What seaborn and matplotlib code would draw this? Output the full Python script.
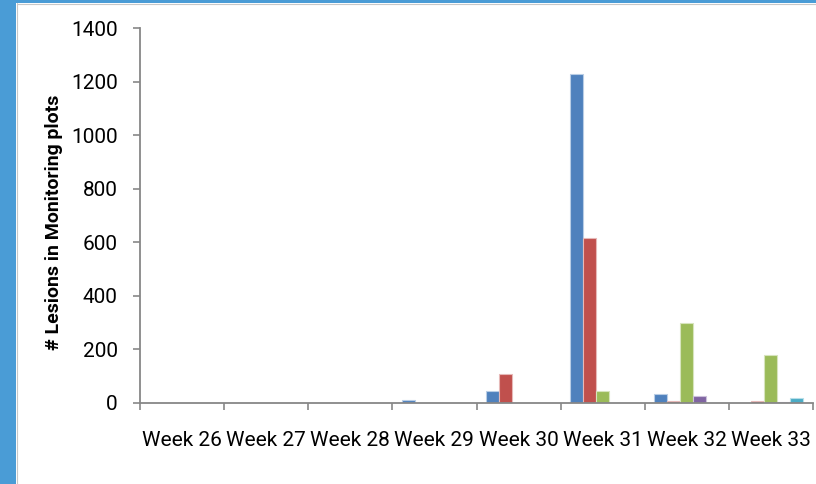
import matplotlib
matplotlib.use("Agg")
import matplotlib.pyplot as plt
from matplotlib.patches import Rectangle
from matplotlib.ticker import FixedLocator, NullFormatter, FixedFormatter
import seaborn as sns
import pandas as pd
import numpy as np

# Weekly lesion counts per monitoring series
weeks = ["Week 26", "Week 27", "Week 28", "Week 29", "Week 30", "Week 31", "Week 32", "Week 33"]
series_names = ["Series 1", "Series 2", "Series 3", "Series 4", "Series 5"]
series_1 = [0, 0, 0, 12, 45, 1230, 33, 0]
series_2 = [0, 0, 0, 0, 110, 615, 7, 9]
series_3 = [0, 0, 0, 0, 0, 45, 300, 180]
series_4 = [0, 0, 0, 0, 0, 0, 25, 5]
series_5 = [0, 0, 0, 0, 0, 0, 0, 17]
y_ticks = [0, 200, 400, 600, 800, 1000, 1200, 1400]

colors = ["#4F81BD", "#C0504D", "#9BBB59", "#8064A2", "#4BACC6"]
edge_colors = ["#b9cde5", "#e6b9b8", "#d7e4bd", "#ccc1da", "#b7dee8"]

rows = []
for name, vals in zip(series_names, [series_1, series_2, series_3, series_4, series_5]):
    for w, v in zip(weeks, vals):
        rows.append({"week": w, "series": name, "lesions": v})
df = pd.DataFrame(rows)

sns.set_theme(style="white")
plt.rcParams["font.family"] = ["Roboto", "DejaVu Sans"]

fig = plt.figure(figsize=(8.16, 4.84), dpi=100)
fig.patch.set_facecolor("white")

# Blue frame strips on the left and top edges
fig.patches.append(Rectangle((0, 0), 16 / 816, 1, transform=fig.transFigure,
                             facecolor="#4a9cd6", edgecolor="none", zorder=0))
fig.patches.append(Rectangle((0, 1 - 3 / 484), 1, 3 / 484, transform=fig.transFigure,
                             facecolor="#4a9cd6", edgecolor="none", zorder=0))
fig.add_artist(plt.Line2D([16.5 / 816, 16.5 / 816], [0, 1 - 3 / 484], transform=fig.transFigure,
                          color="#c8c8c8", lw=0.8))
fig.add_artist(plt.Line2D([16.5 / 816, 1], [1 - 3.5 / 484, 1 - 3.5 / 484], transform=fig.transFigure,
                          color="#c8c8c8", lw=0.8))

ax = fig.add_axes([140 / 816, (484 - 403) / 484, 673 / 816, 375 / 484])
ax.set_facecolor("white")

sns.barplot(data=df, x="week", y="lesions", hue="series", hue_order=series_names,
            order=weeks, palette=colors, width=65 / 84, ax=ax, legend=False,
            saturation=1, errorbar=None)

# lighter outline on each bar
n_weeks = len(weeks)
for i, patch in enumerate(ax.patches):
    patch.set_edgecolor(edge_colors[i // n_weeks])
    patch.set_linewidth(0.8)

ax.set_xlim(-0.5, len(weeks) - 0.5)
ax.set_ylim(0, 1400)
ax.set_yticks(y_ticks)
ax.set_yticklabels([str(t) for t in y_ticks])

# category boundaries as major ticks, labels centred on minor ticks
ax.xaxis.set_major_locator(FixedLocator(np.arange(-0.5, len(weeks), 1.0)))
ax.xaxis.set_major_formatter(NullFormatter())
ax.xaxis.set_minor_locator(FixedLocator(np.arange(len(weeks))))
ax.xaxis.set_minor_formatter(FixedFormatter(weeks))

axis_gray = "#878787"
ax.tick_params(axis="x", which="major", direction="out", length=5, width=1.2,
               color=axis_gray, bottom=True)
ax.tick_params(axis="x", which="minor", length=0, pad=20, labelsize=15, labelcolor="black")
ax.tick_params(axis="y", which="major", direction="out", length=5, width=1.2,
               color=axis_gray, left=True, pad=11, labelsize=15, labelcolor="black")

for side in ["top", "right"]:
    ax.spines[side].set_visible(False)
for side in ["left", "bottom"]:
    ax.spines[side].set_color(axis_gray)
    ax.spines[side].set_linewidth(1.3)

ax.set_xlabel("")
ax.set_ylabel("# Lesions in Monitoring plots", fontsize=14, fontweight="bold", color="black")
ax.yaxis.set_label_coords(-0.114, 0.481)
ax.grid(False)

fig.savefig("out.png", dpi=100, facecolor="white")
